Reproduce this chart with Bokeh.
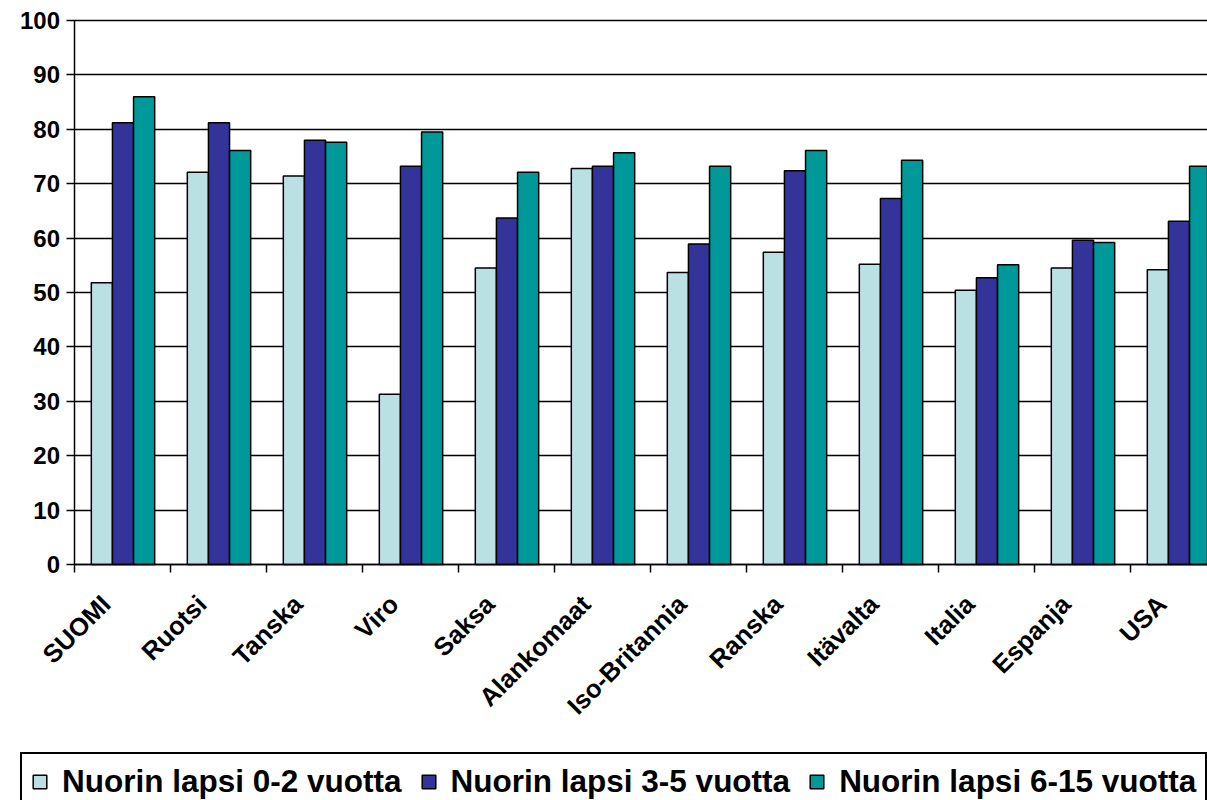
import math
from bokeh.plotting import figure
from bokeh.models import ColumnDataSource, Range1d, FixedTicker, Legend, LegendItem
from bokeh.transform import dodge
from bokeh.embed import file_html
from bokeh.resources import INLINE

categories = ["SUOMI", "Ruotsi", "Tanska", "Viro", "Saksa", "Alankomaat",
              "Iso-Britannia", "Ranska", "Itävalta", "Italia", "Espanja", "USA"]
series_names = ["Nuorin lapsi 0-2 vuotta", "Nuorin lapsi 3-5 vuotta",
                "Nuorin lapsi 6-15 vuotta"]
age_0_2 = [51.8, 72.1, 71.4, 31.3, 54.5, 72.8, 53.7, 57.4, 55.2, 50.4, 54.5, 54.2]
age_3_5 = [81.2, 81.2, 78.0, 73.2, 63.7, 73.2, 58.9, 72.4, 67.3, 52.7, 59.6, 63.1]
age_6_15 = [86.0, 76.1, 77.6, 79.5, 72.1, 75.7, 73.2, 76.1, 74.3, 55.1, 59.2, 73.2]
y_ticks = [0, 10, 20, 30, 40, 50, 60, 70, 80, 90, 100]

colors = ["#BBE0E3", "#333399", "#009999"]
FONT = "Liberation Sans"

centers = [i + 0.5 for i in range(len(categories))]
source = ColumnDataSource(dict(x=centers, a=age_0_2, b=age_3_5, c=age_6_15))

p = figure(width=1207, height=800, output_backend="svg", toolbar_location=None,
           x_range=Range1d(-0.776, 11.797), y_range=Range1d(-43.38, 103.68),
           min_border_left=0, min_border_right=0, min_border_top=0,
           min_border_bottom=0)
p.outline_line_color = None
p.background_fill_color = "white"
p.border_fill_color = "white"
p.xgrid.visible = False
p.ygrid.visible = False

bw = 0.22
renderers = []
for key, off, col in zip(["a", "b", "c"], [-bw, 0.0, bw], colors):
    r = p.vbar(x=dodge("x", off, range=p.x_range), top=key, bottom=0, width=bw,
               source=source, fill_color=col, line_color="black", line_width=1.5)
    renderers.append(r)

# y axis (its inward ticks act as the horizontal gridlines, drawn under the bars)
yax = p.yaxis[0]
yax.fixed_location = 0
yax.level = "underlay"
yax.ticker = FixedTicker(ticks=y_ticks)
yax.bounds = (0, 100)
yax.axis_line_color = "black"
yax.axis_line_width = 1.5
yax.major_tick_line_color = "black"
yax.major_tick_line_width = 1.5
yax.major_tick_out = 8
yax.major_tick_in = 1200
yax.minor_tick_line_color = None
yax.major_label_standoff = 7
yax.major_label_text_font = FONT
yax.major_label_text_font_style = "bold"
yax.major_label_text_font_size = "24px"
yax.major_label_text_color = "black"

# x axis
label_pos = [c - 0.178 for c in centers]
xax = p.xaxis[0]
xax.fixed_location = 0
xax.bounds = (0, 12.5)
xax.ticker = FixedTicker(ticks=label_pos, minor_ticks=list(range(len(categories) + 1)))
xax.major_label_overrides = {c: name for c, name in zip(label_pos, categories)}
xax.major_tick_line_color = None
xax.major_tick_out = 0
xax.major_tick_in = 0
xax.minor_tick_line_color = "black"
xax.minor_tick_line_width = 1.5
xax.minor_tick_out = 8
xax.minor_tick_in = 0
xax.axis_line_color = "black"
xax.axis_line_width = 1.5
xax.major_label_orientation = math.pi / 4
xax.major_label_standoff = 27
xax.major_label_text_font = FONT
xax.major_label_text_font_style = "bold"
xax.major_label_text_font_size = "25.5px"
xax.major_label_text_color = "black"

legend = Legend(
    items=[LegendItem(label=n, renderers=[r]) for n, r in zip(series_names, renderers)],
    orientation="horizontal", location=(20, -11),
    label_text_font=FONT, label_text_font_style="bold", label_text_font_size="31.5px",
    label_text_color="black",
    glyph_width=17, glyph_height=17, label_standoff=14, spacing=18, padding=9,
    border_line_color="black", border_line_width=2, border_line_alpha=1.0,
    background_fill_color="white", background_fill_alpha=1.0, margin=0)
p.add_layout(legend)

open("out.html", "w").write(file_html(p, INLINE))
